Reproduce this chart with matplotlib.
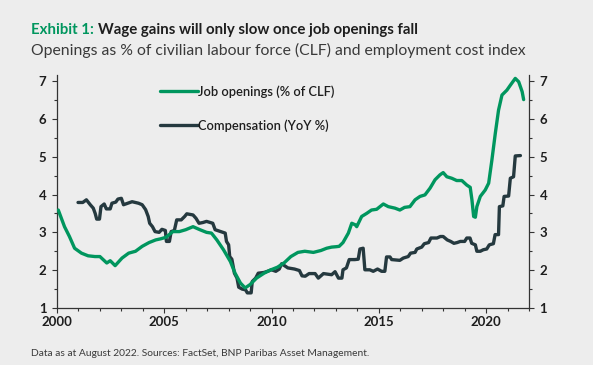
import matplotlib
matplotlib.use("Agg")
import matplotlib.pyplot as plt
from matplotlib.ticker import MultipleLocator

# ---- data ----
job_years = [2000.06, 2000.35, 2000.58, 2000.82, 2001.14, 2001.45, 2001.77, 2002.0, 2002.32, 2002.48,
             2002.71, 2003.03, 2003.34, 2003.66, 2003.97, 2004.29, 2004.6, 2004.84, 2005.08, 2005.4,
             2005.7, 2006.0, 2006.34, 2006.66, 2006.97, 2007.2, 2007.45, 2007.76, 2008.08, 2008.3,
             2008.55, 2008.77, 2009.0, 2009.3, 2009.65, 2009.93, 2010.28, 2010.6, 2010.9, 2011.23,
             2011.55, 2011.95, 2012.3, 2012.57, 2012.8, 2013.0, 2013.15, 2013.33, 2013.58, 2013.74,
             2013.9, 2013.97, 2014.2, 2014.43, 2014.66, 2014.9, 2015.21, 2015.44, 2015.75, 2015.98,
             2016.2, 2016.45, 2016.69, 2016.92, 2017.15, 2017.39, 2017.62, 2017.85, 2018.0, 2018.17,
             2018.4, 2018.63, 2018.87, 2019.1, 2019.26, 2019.34, 2019.42, 2019.5, 2019.57, 2019.73,
             2019.96, 2020.12, 2020.27, 2020.43, 2020.58, 2020.74, 2020.97, 2021.13, 2021.36, 2021.52,
             2021.68, 2021.75]
job_values = [3.59, 3.15, 2.89, 2.58, 2.45, 2.38, 2.36, 2.36, 2.19, 2.25,
              2.12, 2.32, 2.45, 2.50, 2.63, 2.73, 2.80, 2.83, 2.87, 3.02,
              3.02, 3.07, 3.15, 3.07, 3.00, 2.98, 2.80, 2.54, 2.23, 1.92,
              1.66, 1.53, 1.62, 1.79, 1.92, 2.00, 2.08, 2.20, 2.36, 2.47,
              2.50, 2.47, 2.52, 2.58, 2.61, 2.62, 2.63, 2.73, 2.98, 3.24,
              3.20, 3.15, 3.42, 3.50, 3.59, 3.61, 3.75, 3.68, 3.64, 3.59,
              3.66, 3.68, 3.86, 3.95, 3.99, 4.17, 4.39, 4.52, 4.58, 4.47,
              4.43, 4.37, 4.37, 4.25, 4.19, 3.86, 3.42, 3.40, 3.68, 3.95,
              4.12, 4.30, 4.91, 5.62, 6.23, 6.63, 6.76, 6.89, 7.07, 6.98,
              6.72, 6.51]

comp_years = [2000.98, 2001.2, 2001.37, 2001.55, 2001.69, 2001.78, 2001.85, 2001.98, 2002.05, 2002.2,
              2002.3, 2002.48, 2002.56, 2002.74, 2002.84, 2003.0, 2003.1, 2003.3, 2003.5, 2003.8,
              2003.97, 2004.13, 2004.25, 2004.32, 2004.45, 2004.57, 2004.76, 2004.89, 2005.05, 2005.1,
              2005.24, 2005.32, 2005.47, 2005.58, 2005.79, 2005.95, 2006.05, 2006.34, 2006.48, 2006.62,
              2006.8, 2006.97, 2007.26, 2007.37, 2007.63, 2007.84, 2007.9, 2008.0, 2008.05, 2008.15,
              2008.27, 2008.39, 2008.47, 2008.63, 2008.79, 2008.87, 2009.05, 2009.1, 2009.26, 2009.38,
              2009.65, 2009.81, 2010.0, 2010.2, 2010.36, 2010.47, 2010.76, 2011.07, 2011.3, 2011.42,
              2011.57, 2011.75, 2012.03, 2012.18, 2012.42, 2012.8, 2012.96, 2013.12, 2013.28, 2013.33,
              2013.49, 2013.62, 2013.88, 2014.04, 2014.12, 2014.27, 2014.35, 2014.58, 2014.74, 2014.94,
              2015.13, 2015.28, 2015.36, 2015.52, 2015.6, 2015.98, 2016.14, 2016.37, 2016.48, 2016.69,
              2016.77, 2017.0, 2017.12, 2017.32, 2017.43, 2017.71, 2017.87, 2018.0, 2018.19, 2018.35,
              2018.5, 2018.65, 2018.8, 2019.0, 2019.1, 2019.25, 2019.33, 2019.5, 2019.57, 2019.73,
              2019.87, 2020.03, 2020.15, 2020.34, 2020.42, 2020.58, 2020.62, 2020.78, 2020.84, 2021.05,
              2021.13, 2021.28, 2021.36, 2021.6]
comp_values = [3.79, 3.79, 3.86, 3.73, 3.64, 3.50, 3.35, 3.35, 3.68, 3.75,
               3.62, 3.62, 3.77, 3.80, 3.88, 3.90, 3.73, 3.77, 3.81, 3.77,
               3.73, 3.60, 3.42, 3.24, 3.15, 3.02, 3.00, 3.08, 3.05, 2.76,
               2.76, 3.02, 3.05, 3.33, 3.33, 3.42, 3.49, 3.46, 3.37, 3.24,
               3.26, 3.29, 3.24, 3.07, 3.02, 2.98, 2.76, 2.67, 2.36, 2.29,
               1.92, 1.79, 1.55, 1.50, 1.48, 1.40, 1.40, 1.70, 1.79, 1.92,
               1.94, 1.97, 2.01, 1.97, 2.03, 2.17, 2.06, 2.03, 1.99, 1.85,
               1.84, 1.91, 1.91, 1.79, 1.91, 1.88, 1.96, 1.79, 1.79, 2.01,
               2.06, 2.28, 2.28, 2.29, 2.56, 2.58, 2.01, 2.01, 1.97, 2.03,
               1.97, 1.97, 2.35, 2.35, 2.28, 2.26, 2.32, 2.36, 2.45, 2.47,
               2.56, 2.61, 2.70, 2.73, 2.85, 2.85, 2.89, 2.89, 2.80, 2.76,
               2.71, 2.73, 2.76, 2.76, 2.85, 2.85, 2.71, 2.67, 2.50, 2.50,
               2.54, 2.56, 2.67, 2.70, 2.94, 2.94, 3.68, 3.70, 3.95, 3.96,
               4.43, 4.47, 5.02, 5.03]

year_ticks = [2000, 2005, 2010, 2015, 2020]
value_ticks = [1, 2, 3, 4, 5, 6, 7]

title_prefix = "Exhibit 1: "
title_main = "Wage gains will only slow once job openings fall"
subtitle = "Openings as % of civilian labour force (CLF) and employment cost index"
footnote = "Data as at August 2022. Sources: FactSet, BNP Paribas Asset Management."
label_job = "Job openings (% of CLF)"
label_comp = "Compensation (YoY %)"

# ---- style ----
BG = "#EDEDED"
GREEN = "#00965E"
DARK = "#25393F"
TXT = "#1E1E1E"
plt.rcParams['font.family'] = ['Lato', 'DejaVu Sans']

W, H = 593, 365
fig = plt.figure(figsize=(W / 100, H / 100), dpi=100, facecolor=BG)

x0, x1, yb, yt = 57, 529, 308, 75
ax = fig.add_axes([x0 / W, (H - yb) / H, (x1 - x0) / W, (yb - yt) / H])
ax.set_facecolor(BG)

ax.plot(job_years, job_values, color=GREEN, lw=2.4, solid_joinstyle='round',
        solid_capstyle='round', label=label_job, zorder=3)
ax.plot(comp_years, comp_values, color=DARK, lw=2.4, solid_joinstyle='round',
        solid_capstyle='round', label=label_comp, zorder=2)

ax.set_xlim(2000, 2022)
ax.set_ylim(1, 7.16)
ax.set_xticks(year_ticks)
ax.set_xticklabels([str(y) for y in year_ticks])
ax.xaxis.set_minor_locator(MultipleLocator(1))
ax.set_yticks(value_ticks)
ax.yaxis.set_minor_locator(MultipleLocator(0.5))

ax.spines['top'].set_visible(False)
for s in ['left', 'right', 'bottom']:
    ax.spines[s].set_color('#333333')
    ax.spines[s].set_linewidth(0.9)

ax.tick_params(axis='both', which='both', direction='out', color='#333333', width=0.8)
ax.tick_params(axis='both', which='major', length=3.5, labelsize=9.5, labelcolor=TXT)
ax.tick_params(axis='both', which='minor', length=2.5)
ax.tick_params(axis='y', which='both', left=True, right=True, labelleft=True, labelright=True, pad=4)
ax.tick_params(axis='x', pad=2)
for lab in ax.get_xticklabels() + ax.get_yticklabels():
    lab.set_fontweight('bold')
ax.grid(False)

leg = ax.legend(loc='upper left', bbox_to_anchor=((155 - x0) / (x1 - x0), 1 - (80 - yt) / (yb - yt)),
                frameon=False, handlelength=2.95, handletextpad=0.0, labelspacing=1.65,
                fontsize=9.3, borderaxespad=0)
for t in leg.get_texts():
    t.set_color(TXT)
    t.set_fontweight('semibold')

# titles
t1 = fig.text(31 / W, 1 - 34 / H, title_prefix, color=GREEN, fontsize=10.8,
              fontweight='bold', va='baseline', ha='left')
fig.canvas.draw()
bb = t1.get_window_extent()
fig.text(bb.x1 / W, 1 - 34 / H, title_main, color=TXT, fontsize=10.8,
         fontweight='bold', va='baseline', ha='left')
fig.text(31 / W, 1 - 55 / H, subtitle, color='#3A3A3A', fontsize=11.3,
         va='baseline', ha='left')
fig.text(31 / W, 1 - 356 / H, footnote, color='#3A3A3A', fontsize=7.4,
         va='baseline', ha='left')

fig.savefig("out.png", dpi=100, facecolor=BG)
